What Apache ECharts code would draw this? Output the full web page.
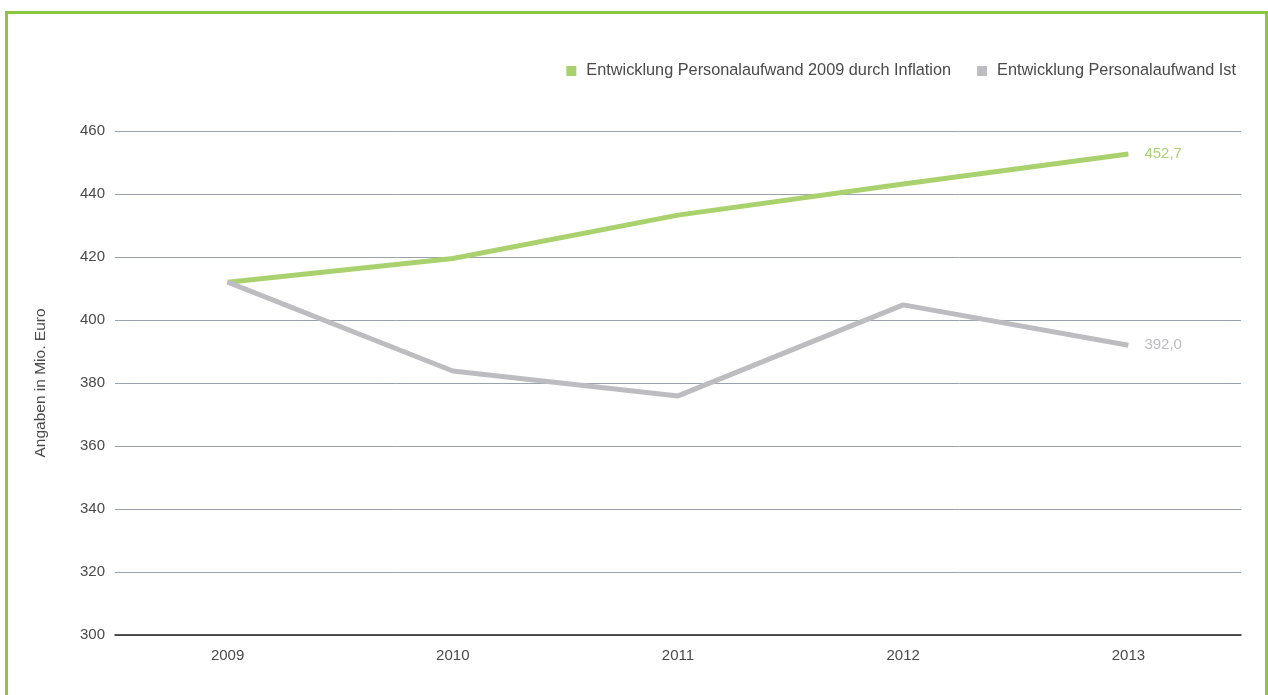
<!DOCTYPE html>
<html><head><meta charset="utf-8">
<script src="https://cdn.jsdelivr.net/npm/echarts@6/dist/echarts.min.js"></script>
<style>
html,body{margin:0;padding:0;background:#fff;overflow:hidden;}
#frame{position:absolute;left:5px;top:11px;width:1263px;height:700px;border:3px solid #8cc63f;border-bottom:none;box-sizing:border-box;}
#c{position:absolute;left:0;top:0;width:1268px;height:695px;}
</style></head>
<body>
<div id="frame"></div>
<div id="c"></div>
<script>
const years = ['2009','2010','2011','2012','2013'];
const inflation = [412.0, 419.5, 433.3, 443.2, 452.7];
const ist = [412.0, 383.8, 375.9, 404.8, 392.0];
const seriesNames = ['Entwicklung Personalaufwand 2009 durch Inflation','Entwicklung Personalaufwand Ist'];
const yAxisName = 'Angaben in Mio. Euro';

const font = "'Liberation Sans', Arial, sans-serif";
function endLabel(color){
  return {show:true,distance:16,color:color,fontSize:15,fontFamily:font,
          formatter:p=>Number(p.value).toFixed(1).replace('.',',')};
}
const chart = echarts.init(document.getElementById('c'));
chart.setOption({
  animation:false,
  textStyle:{fontFamily:font},
  legend:{
    right:27, top:58, itemWidth:10, itemHeight:10, itemGap:26, icon:'rect',
    textStyle:{fontSize:16.3,color:'#4a4a4a',fontFamily:font,padding:[0,0,0,5]},
    data:seriesNames
  },
  grid:{left:115,right:27,top:131,bottom:60},
  xAxis:{
    type:'category', data:years, boundaryGap:true,
    axisLine:{lineStyle:{color:'#222',width:1.5}},
    axisTick:{show:false},
    axisLabel:{color:'#4a4a4a',fontSize:15,margin:13,fontFamily:font}
  },
  yAxis:{
    type:'value', min:300, max:460, interval:20,
    name:yAxisName, nameLocation:'middle', nameGap:66, nameRotate:90,
    nameTextStyle:{color:'#4a4a4a',fontSize:15.5,fontFamily:font},
    axisLine:{show:false}, axisTick:{show:false},
    axisLabel:{color:'#4a4a4a',fontSize:15,margin:10,fontFamily:font},
    splitLine:{lineStyle:{color:'#9aa3ab',width:1}}
  },
  series:[
    {name:seriesNames[0],type:'line',data:inflation,symbol:'none',
     endLabel:endLabel('#a9d26f'),
     lineStyle:{color:'#a9d26f',width:5},itemStyle:{color:'#a9d26f'}},
    {name:seriesNames[1],type:'line',data:ist,symbol:'none',
     endLabel:endLabel('#bdbdc1'),
     lineStyle:{color:'#bdbdc1',width:5},itemStyle:{color:'#bdbdc1'}}
  ]
});
</script>
</body></html>
